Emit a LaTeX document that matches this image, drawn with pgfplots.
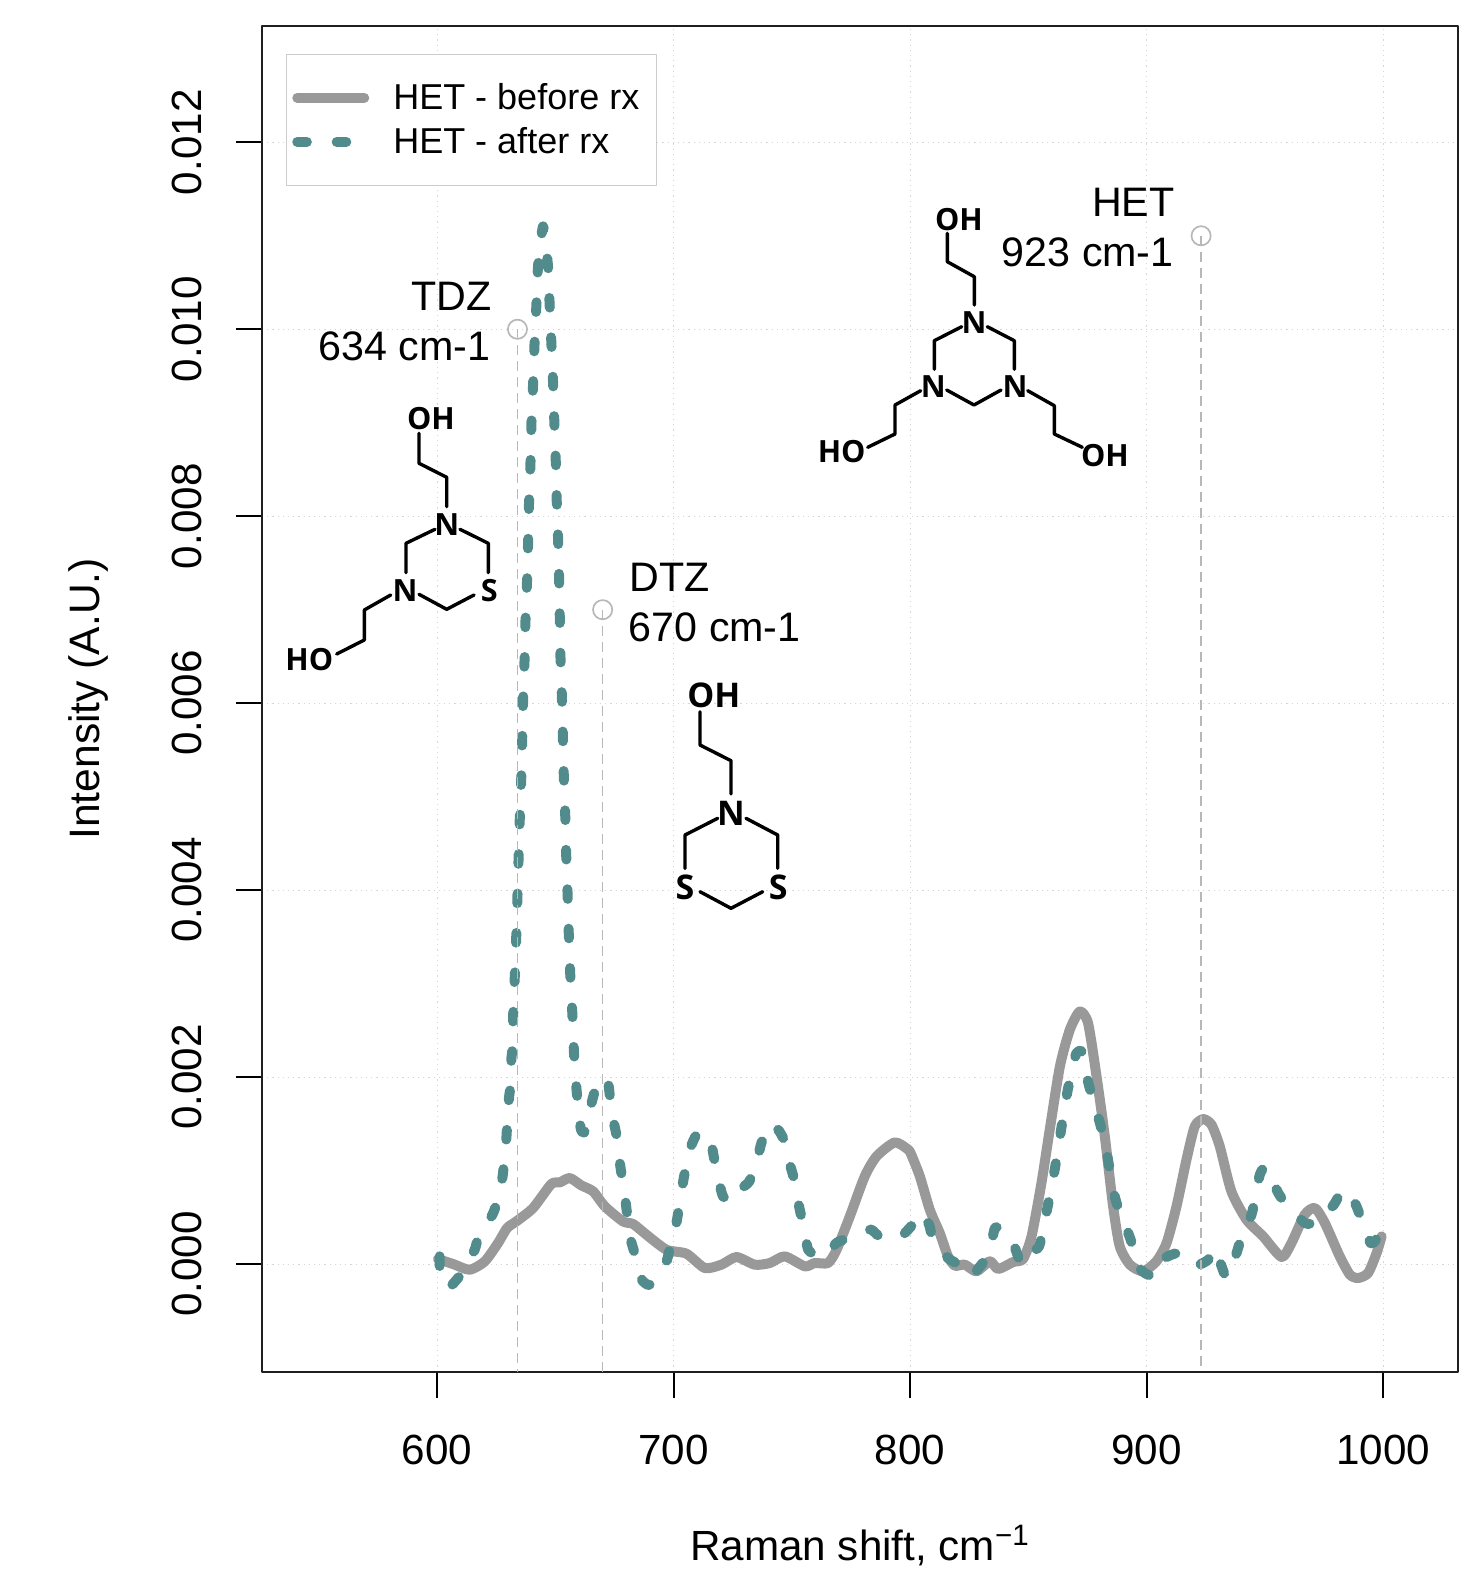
\documentclass[border=0pt]{standalone}
\usepackage{fontspec}
\setmainfont{Liberation Sans}
\newfontfamily\chem{Open Sans}[BoldFont={Open Sans Bold}]
\usepackage{pgfplots}
\pgfplotsset{compat=1.18}
\definecolor{tealc}{HTML}{528B8B}
\definecolor{grayc}{HTML}{999999}
\definecolor{dropc}{HTML}{B8B8B8}
\definecolor{gridc}{HTML}{D6D6D6}
\definecolor{boxc}{HTML}{CCCCCC}
\newcommand{\fs}[1]{\fontsize{#1}{#1}\selectfont}
\begin{document}
\begin{tikzpicture}
\begin{scope}[x=0.5pt,y=-0.5pt]
\useasboundingbox (0,0) rectangle (1481,1574);
\end{scope}
\begin{axis}[
  at={(131pt,-685.85pt)},anchor=south west,
  scale only axis,width=598pt,height=672.85pt,
  xmin=526,xmax=1031.6,ymin=-0.001152,ymax=0.013244,
  xtick={600,700,800,900,1000},
  ytick={0,0.002,0.004,0.006,0.008,0.01,0.012},
  scaled y ticks=false,
  tick pos=left,tick align=outside,major tick length=13pt,
  every tick/.style={black,line width=0.9pt},
  axis line style={line width=1pt,color=black!88},
  grid=major,
  grid style={gridc,line width=0.5pt,dash pattern=on 0.6pt off 2pt},
  tick label style={font=\fs{21.1}},
  /pgf/number format/assume math mode=true,
  x tick label style={/pgf/number format/1000 sep={},yshift=-15pt},
  y tick label style={rotate=90,anchor=south,yshift=13.5pt,/pgf/number format/fixed,/pgf/number format/fixed zerofill,/pgf/number format/precision=3},
  ylabel={Intensity (A.U.)},xlabel={Raman shift, cm\textsuperscript{−1}},
  ylabel style={font=\fs{21.3},at={(axis description cs:-0.1455,0.5)},anchor=center},
  xlabel style={font=\fs{21.1},at={(axis description cs:0.5,-0.1404)},anchor=base},
  legend style={at={(axis description cs:0.0197,0.9795)},anchor=north west,draw=boxc,line width=0.7pt,fill=white,
    font=\fs{18},inner xsep=3pt,inner ysep=12.5pt,row sep=3.5pt,
    /tikz/every odd column/.append style={column sep=10pt}},
  legend cell align=left,
  legend image code/.code={\draw[#1] (0,0) -- (33.5pt,0);},
  line join=round,
]
\addplot[grayc,line width=5pt,line cap=round,line join=round,smooth,tension=0.4] coordinates {
(600.4,0.000053)(606.8,0)(613.8,-0.000061)(620.2,0.000029)(625.8,0.000225)(629.6,0.000385)(633.5,0.000456)(640.6,0.000599)(648.3,0.000856)(651.9,0.000873)(656.1,0.00092)(661,0.000841)(666,0.000777)(670.9,0.000617)(678.6,0.000456)(682.9,0.000428)(688.5,0.000314)(697,0.000153)(705.4,0.000111)(713.2,-0.000043)(720.2,-0.000007)(726.6,0.000075)(734.3,-0.000007)(740.7,0.000011)(747,0.000082)(755.5,-0.000025)(759.7,0.000011)(765.3,0.000011)(768.9,0.000153)(774.5,0.00051)(780.8,0.000938)(785.8,0.001152)(793.5,0.001301)(799.2,0.001223)(800.5,0.001169)(804.1,0.000938)(808.3,0.000581)(812.5,0.000332)(816,0.000082)(818.9,-0.000018)(823.1,-0.000007)(828,-0.000078)(833.7,0.000029)(837.2,-0.000053)(843.5,0.000021)(847.7,0.000053)(851.3,0.000296)(855.5,0.000866)(859,0.001437)(863.3,0.002114)(867.5,0.002506)(871.7,0.002702)(875.2,0.002578)(878.8,0.002007)(882.3,0.001365)(885.8,0.000617)(888.6,0.000189)(892.9,-0.000007)(898.5,-0.000078)(904.1,0.000029)(908.4,0.000225)(912.6,0.000617)(916.8,0.001116)(920.3,0.001472)(923.9,0.001551)(927.4,0.00149)(930.9,0.001258)(935.8,0.000777)(942.2,0.000474)(949.2,0.000296)(957,0.000075)(961.2,0.000225)(966.8,0.000528)(971.1,0.000599)(975.3,0.000439)(981.6,0.000082)(985.9,-0.000114)(989.4,-0.00015)(993.6,-0.000096)(997.2,0.000118)(999.3,0.000296)
};
\addlegendentry{HET - before rx\rule{3.5pt}{0pt}}
\addplot[tealc,line width=5pt,line cap=round,line join=round,smooth,tension=0.3,dash pattern=on 4.8pt off 14.92pt] coordinates {
(601.1,0.000082)(601.1,-0.000025)(602.8,-0.00015)(604.7,-0.00026)(606.8,-0.00021)(610.3,-0.000103)(615.9,0.000153)(617.3,0.000267)(623.4,0.000528)(625.1,0.000645)(627.6,0.00092)(628.2,0.001055)(629.3,0.001348)(629.6,0.00148)(630.4,0.001775)(631,0.0019)(631.4,0.002193)(631.9,0.00231)(632.2,0.002677)(632.9,0.003101)(633.5,0.003522)(634,0.003946)(634.5,0.004367)(635,0.004788)(635.6,0.005208)(636,0.005625)(636.4,0.006048)(637,0.006471)(637.4,0.006895)(638.06,0.007319)(638.5,0.007729)(638.9,0.008157)(639.5,0.008574)(639.9,0.008995)(640.6,0.009416)(641.2,0.00984)(642,0.010261)(642.7,0.010678)(644.8,0.0111)(646.9,0.010678)(647.6,0.010261)(648.35,0.00984)(649.06,0.009416)(649.6,0.008995)(650.2,0.008574)(650.6,0.008157)(651.2,0.007729)(651.6,0.007319)(651.9,0.006895)(652.2,0.006471)(652.8,0.006048)(653.2,0.005625)(653.6,0.005208)(654.2,0.004788)(654.6,0.004367)(655.2,0.003946)(655.7,0.003522)(656.3,0.003101)(657.2,0.002677)(657.9,0.002257)(659.05,0.00184)(660.7,0.001455)(661.7,0.001408)(662.7,0.00143)(665.3,0.001722)(666.7,0.001847)(669.5,0.002)(672.3,0.001936)(673,0.001811)(674.8,0.001508)(675.8,0.001383)(677.2,0.001098)(677.9,0.000973)(679.6,0.000688)(680.3,0.000545)(681.9,0.00026)(683.3,0.000135)(686.4,-0.00015)(687.1,-0.000185)(689.9,-0.000221)(696.7,0.000011)(698.1,0.000135)(700.9,0.000403)(701.9,0.000545)(703.7,0.000831)(704.7,0.000973)(707.1,0.001241)(709.4,0.001373)(712.2,0.001419)(716,0.001269)(717.1,0.001134)(719.5,0.000848)(720.9,0.000724)(724.5,0.000663)(728,0.000795)(732,0.000884)(735.7,0.001152)(737.1,0.001294)(740.9,0.001501)(744.2,0.001437)(746.6,0.00133)(749.4,0.001045)(750.8,0.00092)(752.9,0.000635)(754.1,0.000492)(756.2,0.000225)(756.9,0.000153)(759.3,0.0001)(763.9,0.000082)(768.8,0.000225)(773.5,0.000278)(778.7,0.000349)(783.6,0.000367)(787.2,0.000289)(792.1,0.00026)(797,0.000314)(801,0.000421)(804.5,0.000553)(808,0.000421)(809.4,0.000296)(816,0.000064)(820.7,-0.000007)(825.5,-0.000132)(830.1,-0.000007)(833.4,0.000118)(835.8,0.000385)(838.6,0.000374)(842.8,0.000278)(847,-0.000007)(850.3,0.0001)(854.5,0.000189)(856.9,0.000456)(858,0.000599)(860.2,0.000884)(861.1,0.001009)(863,0.001294)(863.8,0.001437)(865.6,0.001704)(866.5,0.001847)(868.9,0.002132)(870.3,0.002257)(872.4,0.002275)(874.5,0.002025)(875.9,0.001882)(879,0.001615)(880.6,0.001472)(883,0.001205)(884,0.001062)(885.8,0.000795)(887.5,0.000635)(891.4,0.000385)(893.3,0.000253)(896.4,-0.000025)(899.6,-0.000103)(903.8,-0.000132)(907,0.000053)(911.9,0.000111)(916.8,0.000111)(921.7,-0.000007)(926,0.000046)(928.4,0.000171)(930.9,0.000029)(933,-0.000114)(934.9,-0.000125)(938.2,0.000135)(940,0.000278)(944.3,0.000528)(945.7,0.000688)(947.8,0.000955)(950.3,0.00104)(955.6,0.00076)(958.8,0.000646)(966.8,0.000439)(971.8,0.000446)(979.1,0.000635)(981.9,0.000759)(985.2,0.000788)(988.7,0.000617)(990.8,0.000474)(994.6,0.000225)(996.4,0.000242)(999.3,0.000367)
};
\addlegendentry{HET - after rx}
\addplot[dropc,line width=0.85pt,dash pattern=on 5pt off 3pt,forget plot] coordinates {(634,0.01)(634,-0.00115)};
\addplot[dropc,line width=0.85pt,dash pattern=on 5pt off 3pt,forget plot] coordinates {(670,0.007)(670,-0.00115)};
\addplot[dropc,line width=0.85pt,dash pattern=on 5pt off 3pt,forget plot] coordinates {(923,0.011)(923,-0.00115)};
\addplot[only marks,forget plot,mark=o,mark size=4.8pt,mark options={draw=dropc,line width=0.85pt}] coordinates {(634,0.01)(670,0.007)(923,0.011)};
\end{axis}
\begin{scope}[x=0.5pt,y=-0.5pt]
% peak labels
\node[anchor=base east,inner sep=0,font=\fs{20.6}] at (491.7,310) {TDZ};
\node[anchor=base east,inner sep=0,font=\fs{20.6}] at (491,360) {634 cm-1};
\node[anchor=base east,inner sep=0,font=\fs{20.6}] at (1175,216.7) {HET};
\node[anchor=base east,inner sep=0,font=\fs{20.6}] at (1174,266.7) {923 cm-1};
\node[anchor=base west,inner sep=0,font=\fs{20.6}] at (629,591) {DTZ};
\node[anchor=base west,inner sep=0,font=\fs{20.6}] at (628.5,641) {670 cm-1};
% molecules
\begin{scope}[line width=1.7pt,line cap=round,line join=round,black]
\draw (419,433.3)--(419,463.3)--(446.7,477.3)--(446.7,506.7);
\draw (435,529.3)--(406,543.3)--(406,572.7);
\draw (460,529.3)--(488.3,543.3)--(488.3,572.7);
\draw (419,594.3)--(446.7,609.3)--(474,595);
\draw (390.7,595)--(364.3,610)--(364.3,640)--(336.7,654);
\draw (947.3,233.3)--(947.3,261.7)--(974.3,276.7)--(974.3,305);
\draw (961.7,326.7)--(934.3,340.7)--(934.3,369.3);
\draw (987.3,326.7)--(1014.3,340.7)--(1014.3,369.3);
\draw (946.7,390)--(974,405)--(1001,390);
\draw (920.7,390.7)--(895,405)--(895,434)--(867.7,447.3);
\draw (1027.7,390.7)--(1054.3,405.7)--(1054.3,434)--(1082.3,447.3);
\draw (700,711.7)--(700,745)--(731,760.7)--(731,794);
\draw (717.7,818.3)--(685,835)--(685,868.3);
\draw (746,818.3)--(777.7,835)--(777.7,868.3);
\draw (700,891.7)--(731,908.3)--(762.7,891.7);
\end{scope}
\tikzset{atm/.style={inner sep=0,font=\chem\bfseries\fs{15.3}}}
\node[atm] at (431,418.3) {OH};
\node[atm] at (446.7,525) {N};
\node[atm] at (405,590.7) {N};
\node[atm] at (489.3,590.7) {S};
\node[atm] at (309.3,660) {HO};
\node[atm] at (959,219.3) {OH};
\node[atm] at (974,323) {N};
\node[atm] at (933.3,386.5) {N};
\node[atm] at (1015,386.5) {N};
\node[atm] at (841.7,452) {HO};
\node[atm] at (1105,455.5) {OH};
\tikzset{atmb/.style={inner sep=0,font=\chem\bfseries\fs{17}}}
\node[atmb] at (713.8,695) {OH};
\node[atmb] at (731,813) {N};
\node[atmb] at (685,887.3) {S};
\node[atmb] at (778.3,887.3) {S};
\end{scope}
\end{tikzpicture}
\end{document}
